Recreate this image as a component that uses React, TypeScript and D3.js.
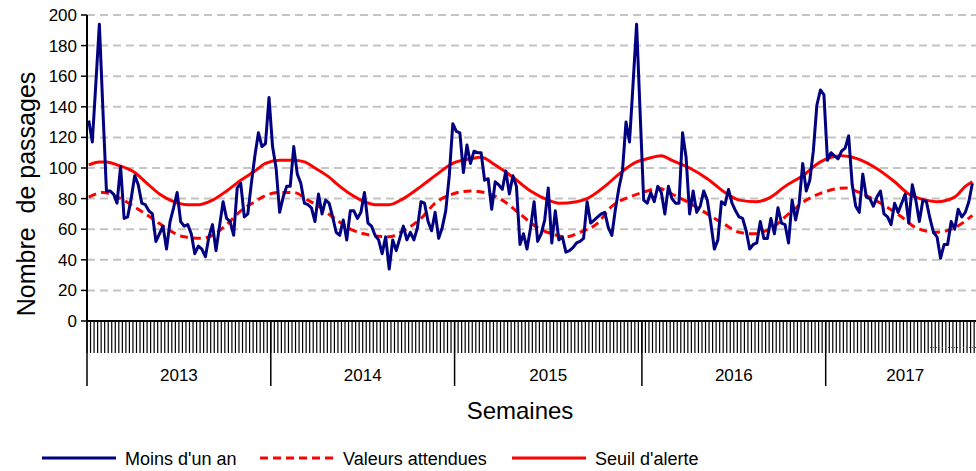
import { useEffect, useRef } from 'react';
import * as d3 from 'd3';

const years = ['2013', '2014', '2015', '2016', '2017'];
// weeks per year on the axis (2017 runs past the right edge of the picture)
const weeksPerYear = [52, 52, 53, 52, 45];

// weekly counts, "Moins d'un an", from 2013 week 1
const moinsUnAn = [
  131, 117, 155, 194, 138, 85, 85, 83, 77, 101, 67, 68, 80, 95, 89, 77, 76, 72, 70, 52,
  57, 62, 47, 65, 74, 84, 65, 62, 63, 57, 44, 49, 47, 42, 55, 63, 46, 62, 78, 67,
  65, 56, 87, 90, 68, 70, 90, 108, 123, 114, 116, 146, 114, 100, 71, 81, 88, 88, 114, 96,
  90, 77, 76, 74, 65, 83, 70, 79, 77, 68, 58, 56, 66, 53, 72, 72, 67, 71, 84, 64,
  62, 56, 53, 44, 55, 34, 53, 46, 54, 62, 53, 58, 53, 61, 78, 77, 65, 59, 71, 54,
  61, 72, 95, 129, 124, 123, 97, 115, 103, 111, 110, 110, 92, 93, 73, 91, 89, 86, 98, 83,
  95, 88, 50, 57, 47, 61, 78, 52, 57, 66, 87, 51, 72, 53, 55, 45, 46, 48, 51, 52,
  54, 78, 64, 66, 68, 70, 71, 61, 56, 73, 87, 98, 130, 117, 155, 194, 136, 79, 77, 84,
  78, 88, 84, 70, 88, 80, 77, 77, 123, 107, 70, 85, 71, 75, 85, 79, 64, 47, 53, 78,
  76, 86, 77, 72, 68, 67, 59, 47, 50, 51, 65, 54, 54, 67, 57, 74, 64, 63, 51, 79,
  66, 77, 103, 85, 92, 111, 141, 151, 148, 105, 110, 108, 106, 111, 113, 121, 89, 75, 71, 96,
  81, 80, 75, 81, 85, 70, 68, 63, 77, 71, 77, 83, 64, 89, 79, 65, 79, 78, 67, 58,
  55, 41, 50, 50, 65, 60, 73, 68, 71, 78, 90,
];

// "Valeurs attendues", read at these week indexes
const attendusWeeks = [0, 4, 9, 14, 18, 23, 27, 32, 35, 39, 43, 47, 50, 54, 58, 62, 65, 69, 75, 80, 85, 89, 94, 98, 103, 108, 112, 117, 122, 127, 131, 135, 139, 144, 148, 153, 158, 161, 165, 170, 175, 180, 184, 188, 194, 198, 203, 209, 214, 218, 224, 230, 234, 240, 245, 250];
const attendusValues = [81, 84, 80, 73, 67, 59, 55, 54, 56, 63, 72, 78, 82, 84, 84, 79, 75, 68, 59, 56, 55, 59, 67, 77, 83, 85, 84, 79, 70, 61, 57, 55, 58, 64, 75, 81, 85, 87, 83, 77, 70, 63, 58, 57, 62, 70, 79, 85, 87, 84, 77, 68, 61, 58, 61, 69];

// "Seuil d'alerte", read at these week indexes
const seuilWeeks = [0, 3, 5, 8, 13, 16, 20, 24, 28, 31, 35, 39, 43, 47, 50, 54, 58, 61, 64, 68, 70, 74, 78, 81, 85, 89, 94, 98, 103, 108, 111, 115, 120, 125, 130, 133, 138, 141, 146, 150, 155, 158, 162, 165, 170, 175, 180, 184, 189, 193, 197, 202, 207, 213, 216, 222, 228, 232, 237, 240, 245, 248, 250];
const seuilValues = [102, 104, 104, 102, 97, 91, 83, 78, 76, 76, 79, 85, 92, 98, 103, 105, 105, 104, 100, 94, 90, 83, 78, 76, 76, 80, 88, 95, 103, 106, 107, 102, 94, 85, 79, 77, 78, 80, 88, 96, 104, 106, 108, 105, 100, 93, 84, 79, 78, 81, 88, 95, 104, 108, 107, 101, 91, 83, 79, 78, 81, 88, 91];

const yTicks = [0, 20, 40, 60, 80, 100, 120, 140, 160, 180, 200];
const legendLabels = ["Moins d'un an", 'Valeurs attendues', "Seuil d'alerte"];

const FONT = '"Liberation Sans", Arial, sans-serif';
const BLUE = '#000080';
const RED = '#ff0000';

export default function App() {
  const svgRef = useRef<SVGSVGElement>(null);

  useEffect(() => {
    const W = 976;
    const left = 87;
    const top = 15;
    const bottom = 321;
    const weekStep = 3.5344;
    const totalWeeks = d3.sum(weeksPerYear);

    const svg = d3.select(svgRef.current);
    svg.selectAll('*').remove();

    const x = d3.scaleLinear().domain([0, totalWeeks]).range([left, left + totalWeeks * weekStep]);
    const y = d3.scaleLinear().domain([0, 200]).range([bottom, top]);

    // Grid lines
    svg.append('g')
      .selectAll('line')
      .data(yTicks.filter(d => d > 0))
      .join('line')
      .attr('x1', left)
      .attr('x2', W)
      .attr('y1', d => y(d))
      .attr('y2', d => y(d))
      .attr('stroke', '#c4c4c4')
      .attr('stroke-width', 2)
      .attr('stroke-dasharray', '8,5');

    // Y axis
    const yAxis = svg.append('g');
    yAxis.append('line')
      .attr('x1', left).attr('x2', left)
      .attr('y1', top).attr('y2', bottom)
      .attr('stroke', '#000').attr('stroke-width', 2);
    yAxis.selectAll('line.tick')
      .data(yTicks)
      .join('line')
      .attr('class', 'tick')
      .attr('x1', left - 6).attr('x2', left)
      .attr('y1', d => y(d)).attr('y2', d => y(d))
      .attr('stroke', '#000').attr('stroke-width', 1.5);
    yAxis.selectAll('text')
      .data(yTicks)
      .join('text')
      .attr('x', left - 10)
      .attr('y', d => y(d))
      .attr('dy', '0.35em')
      .attr('text-anchor', 'end')
      .attr('font-family', FONT)
      .attr('font-size', 17)
      .attr('fill', '#000')
      .text(d => d);

    // X axis: one tick per week, long ticks between years
    const xAxis = svg.append('g');
    xAxis.selectAll('line.week')
      .data(d3.range(totalWeeks + 1))
      .join('line')
      .attr('class', 'week')
      .attr('x1', d => x(d)).attr('x2', d => x(d))
      .attr('y1', bottom).attr('y2', 353)
      .attr('stroke', '#000').attr('stroke-width', 1.2);
    const yearStarts = d3.cumsum([0, ...weeksPerYear]);
    xAxis.selectAll('line.year')
      .data(Array.from(yearStarts).slice(0, years.length))
      .join('line')
      .attr('class', 'year')
      .attr('x1', d => x(d)).attr('x2', d => x(d))
      .attr('y1', bottom).attr('y2', 386)
      .attr('stroke', '#000').attr('stroke-width', 1.5);
    xAxis.selectAll('text')
      .data(years)
      .join('text')
      .attr('x', (d, i) => (x(yearStarts[i]) + x(yearStarts[i + 1])) / 2)
      .attr('y', 381)
      .attr('text-anchor', 'middle')
      .attr('font-family', FONT)
      .attr('font-size', 17)
      .attr('fill', '#000')
      .text(d => d);
    xAxis.append('line')
      .attr('x1', left).attr('x2', W)
      .attr('y1', bottom).attr('y2', bottom)
      .attr('stroke', '#000').attr('stroke-width', 2);
    xAxis.append('line')
      .attr('x1', 930).attr('x2', W)
      .attr('y1', 347.5).attr('y2', 347.5)
      .attr('stroke', '#555').attr('stroke-width', 1)
      .attr('stroke-dasharray', '1,2');

    // Axis titles
    svg.append('text')
      .attr('transform', `translate(35,194) rotate(-90)`)
      .attr('text-anchor', 'middle')
      .attr('font-family', FONT)
      .attr('font-size', 25)
      .attr('fill', '#000')
      .attr('xml:space', 'preserve')
      .text('Nombre  de passages');
    svg.append('text')
      .attr('x', 520)
      .attr('y', 419)
      .attr('text-anchor', 'middle')
      .attr('font-family', FONT)
      .attr('font-size', 24)
      .attr('fill', '#000')
      .text('Semaines');

    // Data lines
    const plot = svg.append('g');
    const smooth = d3.line<number>()
      .curve(d3.curveMonotoneX);

    plot.append('path')
      .attr('d', smooth.x(d => x(d + 0.5)).y((d, i) => y(attendusValues[i]))(attendusWeeks))
      .attr('fill', 'none')
      .attr('stroke', RED)
      .attr('stroke-width', 3)
      .attr('stroke-dasharray', '8,5');

    plot.append('path')
      .attr('d', smooth.x(d => x(d + 0.5)).y((d, i) => y(seuilValues[i]))(seuilWeeks))
      .attr('fill', 'none')
      .attr('stroke', RED)
      .attr('stroke-width', 3);

    const line = d3.line<number>()
      .x((d, i) => x(i + 0.5))
      .y(d => y(d));
    plot.append('path')
      .datum(moinsUnAn)
      .attr('d', line)
      .attr('fill', 'none')
      .attr('stroke', BLUE)
      .attr('stroke-width', 3)
      .attr('stroke-linejoin', 'round');

    // Legend
    const legendX = [42, 260, 512];
    const legend = svg.append('g');
    legendLabels.forEach((label, i) => {
      legend.append('line')
        .attr('x1', legendX[i]).attr('x2', legendX[i] + 74)
        .attr('y1', 458).attr('y2', 458)
        .attr('stroke', i === 0 ? BLUE : RED)
        .attr('stroke-width', 3)
        .attr('stroke-dasharray', i === 1 ? '8,5' : null);
      legend.append('text')
        .attr('x', legendX[i] + 83)
        .attr('y', 465)
        .attr('font-family', FONT)
        .attr('font-size', 18)
        .attr('fill', '#000')
        .text(label);
    });
  }, []);

  return (
    <div style={{ position: 'absolute', left: 0, top: 0 }}>
      <svg ref={svgRef} width={976} height={471} style={{ display: 'block', background: '#fff' }} />
    </div>
  );
}
